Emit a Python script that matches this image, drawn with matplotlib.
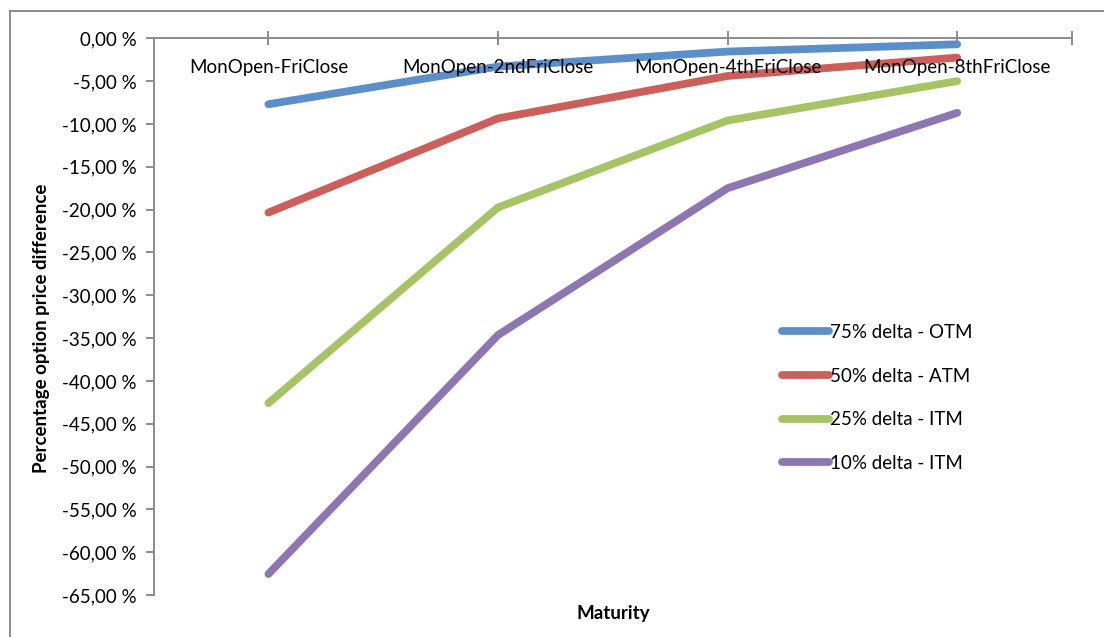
import matplotlib

matplotlib.use("Agg")
import matplotlib.pyplot as plt
from matplotlib.lines import Line2D
from matplotlib.ticker import FuncFormatter

W, H = 1104, 637

maturities = ["MonOpen-FriClose", "MonOpen-2ndFriClose", "MonOpen-4thFriClose", "MonOpen-8thFriClose"]
series_names = ["75% delta - OTM", "50% delta - ATM", "25% delta - ITM", "10% delta - ITM"]
otm_75 = [-7.7, -3.3, -1.55, -0.7]
atm_50 = [-20.35, -9.35, -4.4, -2.25]
itm_25 = [-42.6, -19.75, -9.6, -5.0]
itm_10 = [-62.55, -34.65, -17.5, -8.7]
colors = ["#5B8FC9", "#CC5F5A", "#A6C466", "#8D76B1"]

plt.rcParams.update({"font.family": ["Lato", "DejaVu Sans"], "font.size": 13.5})

fig = plt.figure(figsize=(W / 100, H / 100), dpi=100, facecolor="white")


def px_box(left, top, right, bottom):
    return [left / W, 1 - bottom / H, (right - left) / W, (bottom - top) / H]


ax = fig.add_axes(px_box(153.6, 38.3, 1072, 595))

x = list(range(len(maturities)))
for values, name, color in zip([otm_75, atm_50, itm_25, itm_10], series_names, colors):
    ax.plot(x, values, color=color, lw=5.6, solid_capstyle="round", solid_joinstyle="round", label=name)

ax.set_xlim(-0.5, 3.5)
ax.set_ylim(-65, 0)

grey = "#8C8C8C"
for side in ("bottom", "right"):
    ax.spines[side].set_visible(False)
for side in ("top", "left"):
    ax.spines[side].set_color(grey)
    ax.spines[side].set_linewidth(1.4)

ax.set_yticks(range(0, -70, -5))
ax.yaxis.set_major_formatter(FuncFormatter(lambda v, _: f"{v:.2f} %".replace(".", ",").replace("-0,00", "0,00")))
ax.tick_params(axis="y", direction="out", length=6, width=1.4, color=grey, pad=6, labelsize=13.5)

ax.xaxis.tick_top()
ax.set_xticks(x + [3.5])
ax.set_xticklabels([])
ax.tick_params(axis="x", direction="inout", length=10, width=1.4, color=grey)

for xi, label in zip(x, maturities):
    ax.text(xi, -3.4, label, ha="center", va="center", fontsize=13.5)

fig.text(42 / W, 1 - 328 / H, "Percentage option price difference", rotation=90,
         ha="center", va="center", fontsize=13.5, weight="bold")
fig.text(613 / W, 1 - 614 / H, "Maturity", ha="center", va="center", fontsize=13.5, weight="bold")

ax.legend(loc="upper left", bbox_to_anchor=(782 / W, 1 - 324 / H), bbox_transform=fig.transFigure,
          frameon=False, borderpad=0, borderaxespad=0, handlelength=2.5, handletextpad=0.05,
          labelspacing=1.42, fontsize=13.5)

# outer chart frame (only top and left edges fall inside the image)
fig.add_artist(Line2D([9.5 / W, 9.5 / W], [0, 1 - 11 / H], transform=fig.transFigure, color=grey, lw=1.4))
fig.add_artist(Line2D([9.5 / W, 1], [1 - 11 / H, 1 - 11 / H], transform=fig.transFigure, color=grey, lw=1.4))

fig.savefig("out.png", dpi=100, facecolor="white")
